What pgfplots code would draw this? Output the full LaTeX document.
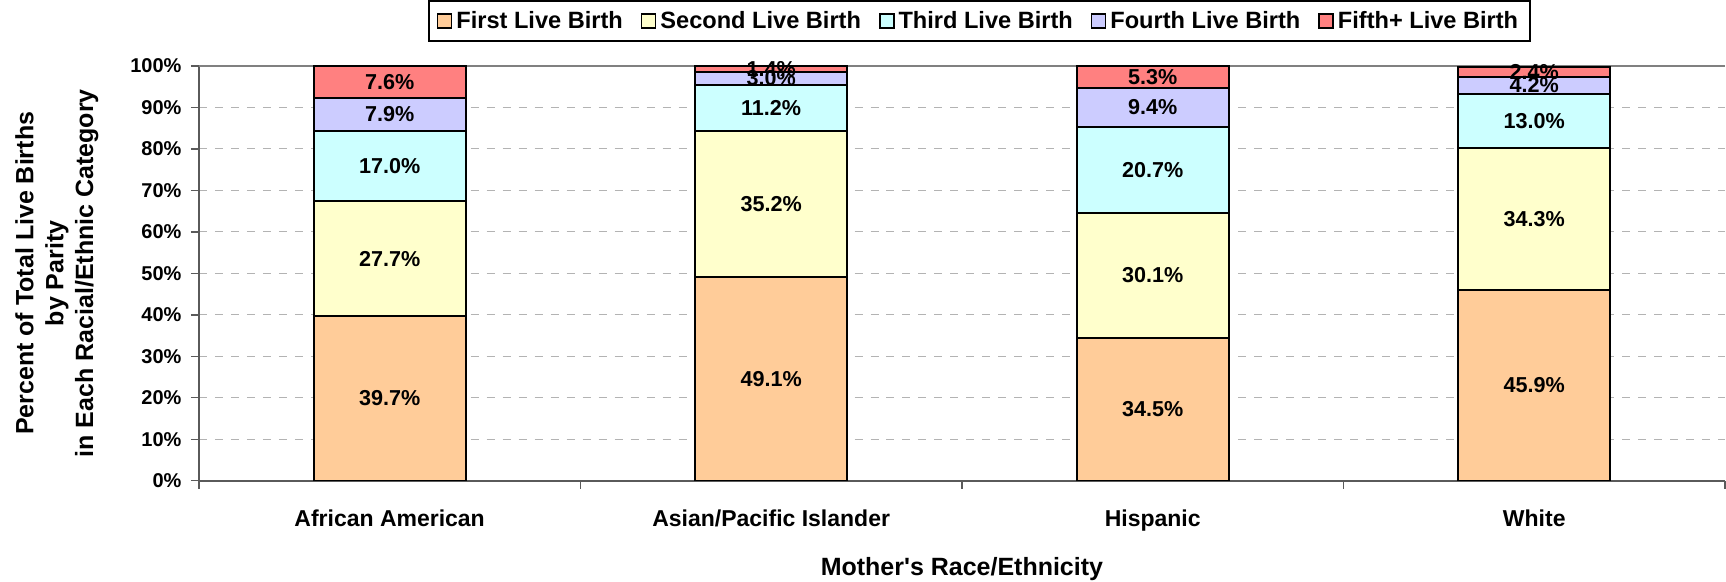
\documentclass[border=0pt]{standalone}
\usepackage{fontspec}
\setmainfont{Liberation Sans}
\usepackage{pgfplots}
\usepackage{pgfplotstable}
\pgfplotsset{compat=1.18}
\definecolor{cFirst}{HTML}{FFCC99}
\definecolor{cSecond}{HTML}{FFFFCC}
\definecolor{cThird}{HTML}{CCFFFF}
\definecolor{cFourth}{HTML}{CCCCFF}
\definecolor{cFifth}{HTML}{FF8080}
\definecolor{axgray}{HTML}{808080}
\pgfplotstableread{
x a b c d e
0 39.7 27.7 17.0 7.9 7.6
1 49.1 35.2 11.2 3.0 1.4
2 34.5 30.1 20.7 9.4 5.3
3 45.9 34.3 13.0 4.2 2.4
}\data
\begin{document}
\begin{tikzpicture}[font=\bfseries]
\begin{axis}[
  scale only axis,
  width=763.5pt, height=207.5pt,
  ybar stacked,
  bar width=76pt,
  xmin=-0.5, xmax=3.5,
  ymin=0, ymax=100,
  /pgf/number format/assume math mode=true,
  axis x line*=bottom, axis y line*=left,
  axis line style={draw=axgray!70!black, line width=0.9pt},
  tick align=outside,
  major tick length=4pt,
  tick style={draw=axgray!70!black, line width=0.7pt},
  xtick={-0.5,0.5,1.5,2.5,3.5},
  xticklabels={},
  extra x ticks={0,1,2,3},
  extra x tick labels={African American,Asian/Pacific Islander,Hispanic,White},
  extra x tick style={major tick length=0pt},
  xticklabel style={font=\fontsize{11.5}{13}\selectfont\bfseries, inner sep=0pt, anchor=north, yshift=-14.5pt},
  ytick={0,10,...,90},
  yticklabel={\pgfmathprintnumber{\tick}\%},
  extra y ticks={100},
  extra y tick labels={100\%},
  extra y tick style={major grid style={solid, draw=axgray, line width=1pt}},
  yticklabel style={font=\fontsize{10}{12}\selectfont\bfseries, inner sep=0pt, anchor=east, xshift=-4.5pt},
  ymajorgrids,
  major grid style={dashed, dash pattern=on 4pt off 4pt, draw=axgray!60, line width=0.5pt},
  ylabel={Percent of Total Live Births\\by Parity\\in Each Racial/Ethnic Category},
  ylabel style={at={([xshift=-50pt]axis description cs:0,0.5)}, anchor=south, inner sep=0pt, align=center, font=\fontsize{12.5}{15}\selectfont\bfseries},
  xlabel={Mother\textquotesingle s Race/Ethnicity},
  xlabel style={at={([yshift=-38pt]axis description cs:0.5,0)}, anchor=north, inner sep=0pt, font=\fontsize{12.5}{15}\selectfont\bfseries},
  point meta=explicit,
  nodes near coords={\pgfmathprintnumber[fixed,fixed zerofill,precision=1]{\pgfplotspointmeta}\%},
  every node near coord/.append style={anchor=center, inner sep=0pt, font=\fontsize{10.8}{12}\selectfont\bfseries},
  legend columns=5,
  legend style={at={(0.5115,1)}, anchor=south, yshift=12pt, draw=black, line width=0.9pt,
    font=\fontsize{11.8}{13}\selectfont\bfseries, inner xsep=4pt, inner ysep=3pt,
    /tikz/every even column/.append style={column sep=7pt}},
  legend cell align=left,
  legend image code/.code={\draw[#1, draw=black, line width=0.8pt] (0pt,-3.6pt) rectangle (7pt,3.6pt);},
]
\addplot[fill=cFirst, draw=black, line width=1pt] table[x=x,y=a,meta=a]{\data};
\addplot[fill=cSecond, draw=black, line width=1pt] table[x=x,y=b,meta=b]{\data};
\addplot[fill=cThird, draw=black, line width=1pt] table[x=x,y=c,meta=c]{\data};
\addplot[fill=cFourth, draw=black, line width=1pt] table[x=x,y=d,meta=d]{\data};
\addplot[fill=cFifth, draw=black, line width=1pt] table[x=x,y=e,meta=e]{\data};
\legend{First Live Birth,Second Live Birth,Third Live Birth,Fourth Live Birth,Fifth+ Live Birth}
\coordinate (bl) at (rel axis cs:0,0);
\coordinate (tr) at (rel axis cs:1,1);
\end{axis}
\path ([xshift=-99.5pt,yshift=-50.5pt]bl) rectangle ([yshift=33pt]tr);
\end{tikzpicture}
\end{document}
